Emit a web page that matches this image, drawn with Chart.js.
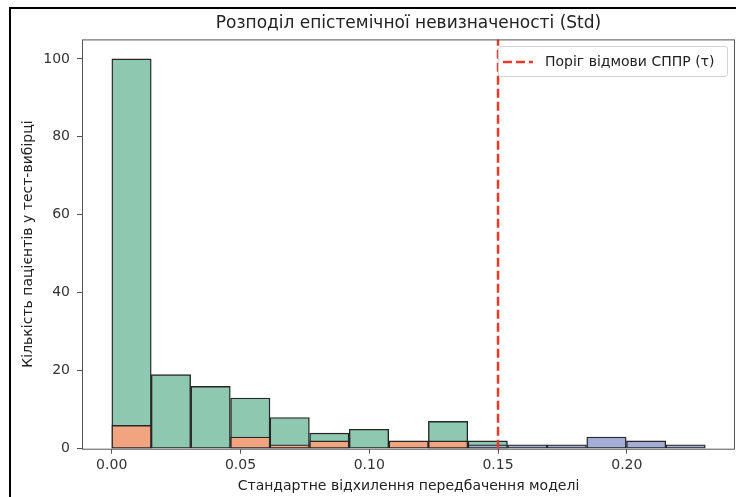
<!DOCTYPE html>
<html>
<head>
<meta charset="utf-8">
<script src="https://cdn.jsdelivr.net/npm/chart.js@4.4.1/dist/chart.umd.min.js"></script>
<style>
  html, body { margin: 0; padding: 0; background: #fff; }
  #wrap { position: relative; width: 736px; height: 497px; overflow: hidden; }
  #frame { position: absolute; left: 9px; top: 7px; width: 800px; height: 600px;
           border-left: 2px solid #000; border-top: 2px solid #000; pointer-events: none; }
  #legend { position: absolute; left: 498px; top: 46px; width: 230px; height: 31px;
            border: 1px solid #d4d4d4; border-radius: 3px; background: rgba(255,255,255,0.85);
            font: 14px "DejaVu Sans", sans-serif; color: #222; box-sizing: border-box; }
  #legend svg { position: absolute; left: 4px; top: 13px; }
  #legend span { position: absolute; left: 46px; top: 6px; white-space: nowrap; }
</style>
</head>
<body>
<div id="wrap">
  <canvas id="chart" width="736" height="497"></canvas>
  <div id="frame"></div>
  <div id="legend">
    <svg width="30" height="4"><line x1="0" y1="2" x2="30" y2="2" stroke="#e8392b" stroke-width="2.5" stroke-dasharray="9,4"/></svg>
    <span>Поріг відмови СППР (τ)</span>
  </div>
</div>
<script>
// histogram bins (centres of 15 bins between 0 and ~0.2305)
const binCenters = [0.0077, 0.0230, 0.0384, 0.0538, 0.0691, 0.0845, 0.0999, 0.1153,
                    0.1306, 0.1460, 0.1614, 0.1767, 0.1921, 0.2075, 0.2228];
const countsGreen  = [100, 19, 16, 13, 8, 4, 5, 0, 7, 2, 0, 0, 0, 0, 0];
const countsOrange = [6, 0, 0, 3, 1, 2, 0, 2, 2, 0, 0, 0, 0, 0, 0];
const countsBlue   = [0, 0, 0, 0, 0, 0, 0, 0, 0, 1, 1, 1, 3, 2, 1];
const threshold = 0.15;
const xTicks = [0, 0.05, 0.10, 0.15, 0.20];
const yTicks = [0, 20, 40, 60, 80, 100];

const FONT = '"DejaVu Sans", sans-serif';

function toPoints(counts) {
    return binCenters.map((x, i) => ({ x: x, y: counts[i] > 0 ? counts[i] : null }));
}

function histDataset(counts, fill, order) {
    return {
        type: 'bar',
        data: toPoints(counts),
        backgroundColor: fill,
        borderColor: '#262626',
        borderWidth: 1.4,
        borderSkipped: false,
        barPercentage: 1,
        categoryPercentage: 1,
        grouped: false,
        order: order
    };
}

// frame round the plot area and the dashed threshold line
const axesFrame = {
    id: 'axesFrame',
    afterDatasetsDraw(chart) {
        const { ctx, chartArea: a, scales } = chart;
        const px = scales.x.getPixelForValue(threshold);
        ctx.save();
        ctx.strokeStyle = '#e8392b';
        ctx.lineWidth = 2.5;
        ctx.setLineDash([9, 4]);
        ctx.beginPath();
        ctx.moveTo(px, a.bottom);
        ctx.lineTo(px, a.top);
        ctx.stroke();
        ctx.setLineDash([]);
        ctx.strokeStyle = '#555';
        ctx.lineWidth = 1;
        ctx.strokeRect(a.left + 0.5, a.top + 0.5, a.right - a.left - 1, a.bottom - a.top);
        ctx.restore();
    }
};

new Chart(document.getElementById('chart').getContext('2d'), {
    type: 'bar',
    data: {
        datasets: [
            histDataset(countsBlue, '#a3aed6', 1),
            histDataset(countsOrange, '#f0a47f', 2),
            histDataset(countsGreen, '#8fc8b0', 3)
        ]
    },
    options: {
        responsive: false,
        animation: false,
        layout: { padding: { left: 0, right: 1, top: 0, bottom: 0 } },
        plugins: {
            legend: { display: false },
            tooltip: { enabled: false },
            title: {
                display: true,
                fullSize: false,
                text: 'Розподіл епістемічної невизначеності (Std)',
                color: '#222',
                font: { family: FONT, size: 17, weight: 'normal' },
                padding: { top: 13, bottom: 6 }
            }
        },
        scales: {
            x: {
                type: 'linear',
                offset: false,
                min: -0.01153,
                max: 0.2420,
                afterBuildTicks: s => { s.ticks = xTicks.map(v => ({ value: v })); },
                afterFit: s => { s.height = 48.3; },
                ticks: {
                    color: '#333',
                    font: { family: FONT, size: 14 },
                    padding: 3,
                    maxRotation: 0,
                    callback: v => v.toFixed(2)
                },
                grid: { offset: false, drawOnChartArea: false, drawTicks: true, tickLength: 5, color: '#555' },
                border: { display: false },
                title: {
                    display: true,
                    text: 'Стандартне відхилення передбачення моделі',
                    color: '#222',
                    font: { family: FONT, size: 14 },
                    padding: { top: 0, bottom: 2 }
                }
            },
            y: {
                min: 0,
                max: 105,
                afterBuildTicks: s => { s.ticks = yTicks.map(v => ({ value: v })); },
                afterFit: s => { s.width = 82; },
                ticks: {
                    color: '#333',
                    font: { family: FONT, size: 14 },
                    padding: 7
                },
                grid: { drawOnChartArea: false, drawTicks: true, tickLength: 5, color: '#555' },
                border: { display: false },
                title: {
                    display: true,
                    text: 'Кількість пацієнтів у тест-вибірці',
                    color: '#222',
                    font: { family: FONT, size: 14 },
                    padding: { top: 20, bottom: 0 }
                }
            }
        }
    },
    plugins: [axesFrame]
});
</script>
</body>
</html>
